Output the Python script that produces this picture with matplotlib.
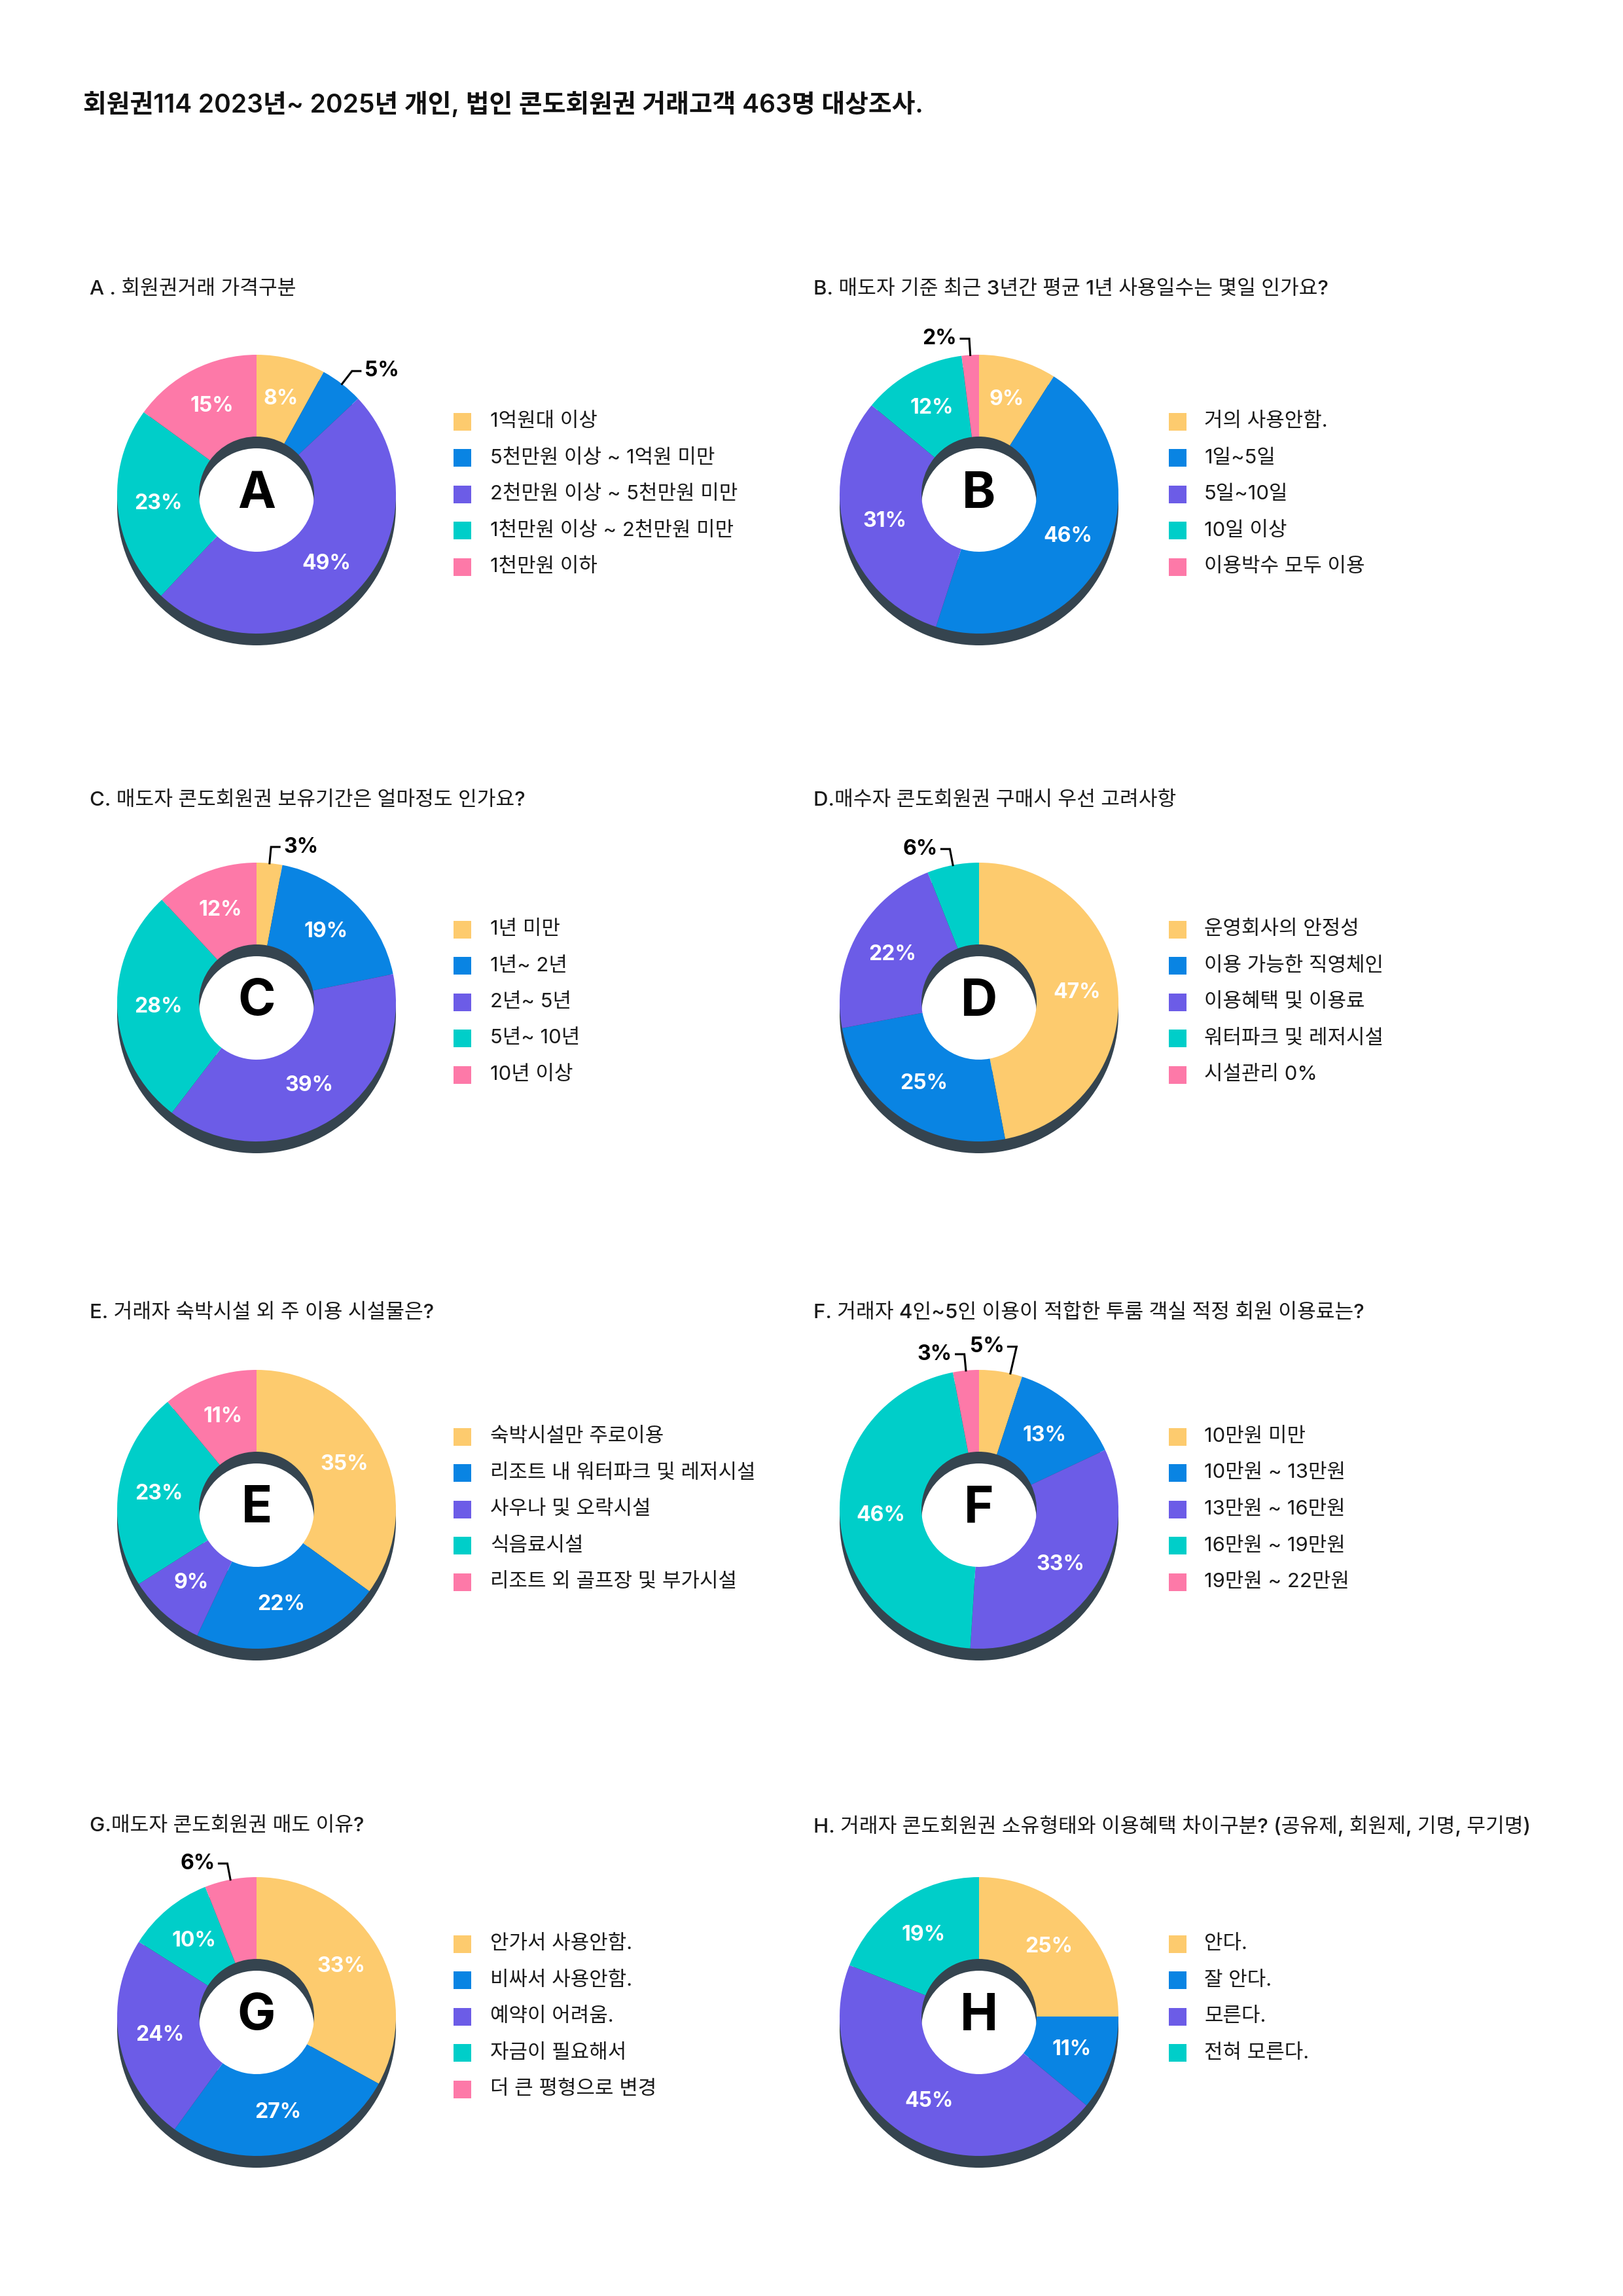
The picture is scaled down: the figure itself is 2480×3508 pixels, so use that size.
import numpy as np
import matplotlib
matplotlib.use("Agg")
from matplotlib import pyplot as plt
from matplotlib.patches import Rectangle

plt.rcParams['font.family'] = ['Inter', 'Noto Sans CJK KR', 'DejaVu Sans']

main_title = "회원권114 2023년~ 2025년 개인, 법인 콘도회원권 거래고객 463명 대상조사."

letters = ["A", "B", "C", "D", "E", "F", "G", "H"]

titles = [
    "A . 회원권거래 가격구분",
    "B. 매도자 기준 최근 3년간 평균 1년 사용일수는 몇일 인가요?",
    "C. 매도자 콘도회원권 보유기간은 얼마정도 인가요?",
    "D.매수자 콘도회원권 구매시 우선 고려사항",
    "E. 거래자 숙박시설 외 주 이용 시설물은?",
    "F. 거래자 4인~5인 이용이 적합한 투룸 객실 적정 회원 이용료는?",
    "G.매도자 콘도회원권 매도 이유?",
    "H. 거래자 콘도회원권 소유형태와 이용혜택 차이구분? (공유제, 회원제, 기명, 무기명)",
]

values_a = [8, 5, 49, 23, 15]
values_b = [9, 46, 31, 12, 2]
values_c = [3, 19, 39, 28, 12]
values_d = [47, 25, 22, 6, 0]
values_e = [35, 22, 9, 23, 11]
values_f = [5, 13, 33, 46, 3]
values_g = [33, 27, 24, 10, 6]
values_h = [25, 11, 45, 19]

labels_a = ["1억원대 이상", "5천만원 이상 ~ 1억원 미만", "2천만원 이상 ~ 5천만원 미만",
            "1천만원 이상 ~ 2천만원 미만", "1천만원 이하"]
labels_b = ["거의 사용안함.", "1일~5일", "5일~10일", "10일 이상", "이용박수 모두 이용"]
labels_c = ["1년 미만", "1년~ 2년", "2년~ 5년", "5년~ 10년", "10년 이상"]
labels_d = ["운영회사의 안정성", "이용 가능한 직영체인", "이용혜택 및 이용료",
            "워터파크 및 레저시설", "시설관리 0%"]
labels_e = ["숙박시설만 주로이용", "리조트 내 워터파크 및 레저시설", "사우나 및 오락시설",
            "식음료시설", "리조트 외 골프장 및 부가시설"]
labels_f = ["10만원 미만", "10만원 ~ 13만원", "13만원 ~ 16만원", "16만원 ~ 19만원", "19만원 ~ 22만원"]
labels_g = ["안가서 사용안함.", "비싸서 사용안함.", "예약이 어려움.", "자금이 필요해서", "더 큰 평형으로 변경"]
labels_h = ["안다.", "잘 안다.", "모른다.", "전혀 모른다."]

all_values = [values_a, values_b, values_c, values_d, values_e, values_f, values_g, values_h]
all_labels = [labels_a, labels_b, labels_c, labels_d, labels_e, labels_f, labels_g, labels_h]

colors = ['#FDCB6E', '#0984E3', '#6C5CE7', '#00CEC9', '#FD79A8']
shadow = '#35444F'

W, H = 2480, 3508
fig = plt.figure(figsize=(W / 100, H / 100), dpi=100)
ax = fig.add_axes([0, 0, 1, 1])

R = 213
HOLE = 88
DROP = 18
col_x = [392, 1496]
leg_sq_x = [693, 1786]
leg_tx_x = [749, 1840]
title_x = [137, 1243]
row_y = [755, 1531, 2306, 3081]
title_y = [442, 1223, 2006, 2790]
# leader tweaks: (chart, slice) -> (side, length, extra angle in degrees)
leader_fix = {(5, 0): (-1, 42, 4.0)}

fig.text(127 / W, 1 - 160 / H, main_title, fontsize=28, fontweight='semibold',
         ha='left', va='center', color='#111111')

for i, (vals, labs) in enumerate(zip(all_values, all_labels)):
    c = i % 2
    r = i // 2
    cx = col_x[c]
    cy = H - row_y[r]

    # shadow ring
    ax.pie([1], colors=[shadow], radius=R, center=(cx, cy - DROP),
           startangle=90, counterclock=False,
           wedgeprops=dict(width=R - HOLE, linewidth=0))
    ax.pie(vals, colors=colors[:len(vals)], radius=R, center=(cx, cy),
           startangle=90, counterclock=False,
           wedgeprops=dict(width=R - HOLE, linewidth=0))

    ax.text(cx, cy, letters[i], fontsize=56, fontweight='bold', ha='center',
            va='center', color='black')

    total = float(sum(vals))
    cum = 0.0
    for k, v in enumerate(vals):
        mid = (cum + v / 2.0) / total
        cum += v
        if v == 0:
            continue
        ang = np.pi / 2 - 2 * np.pi * mid
        if v > 6:
            rr = (R + HOLE) / 2.0
            ax.text(cx + rr * np.cos(ang), cy + rr * np.sin(ang), f"{v}%",
                    fontsize=23, fontweight='bold', color='white',
                    ha='center', va='center')
        else:
            sgn = 1 if np.cos(ang) > 0 else -1
            length = 25
            if (i, k) in leader_fix:
                sgn, length, extra = leader_fix[(i, k)]
                ang0 = ang - np.radians(extra)
            else:
                ang0 = ang
            x0 = cx + R * np.cos(ang0)
            y0 = cy + R * np.sin(ang0)
            x1 = cx + (R + length) * np.cos(ang0)
            y1 = cy + (R + length) * np.sin(ang0)
            x2 = x1 + sgn * 13
            ax.plot([x0, x1, x2], [y0, y1, y1], color='black', lw=2.2,
                    solid_joinstyle='miter')
            ax.text(x2 + sgn * 6, y1, f"{v}%", fontsize=23, fontweight='bold',
                    color='black', ha='left' if sgn > 0 else 'right', va='center')

    # legend
    for k, lab in enumerate(labs):
        ly = cy + (2 - k) * 55.5
        ax.add_patch(Rectangle((leg_sq_x[c], ly - 13.5), 27, 27,
                               facecolor=colors[k], edgecolor='none'))
        ax.text(leg_tx_x[c], ly, lab, fontsize=22.3, ha='left', va='center',
                color='#1a1a1a')

    fig.text(title_x[c] / W, 1 - title_y[r] / H, titles[i], fontsize=22.5,
             fontweight='medium', ha='left', va='center', color='#1a1a1a')

ax.set_xlim(0, W)
ax.set_ylim(0, H)
ax.set_aspect('equal')
ax.axis('off')

fig.savefig("out.png", dpi=100, facecolor='white')
